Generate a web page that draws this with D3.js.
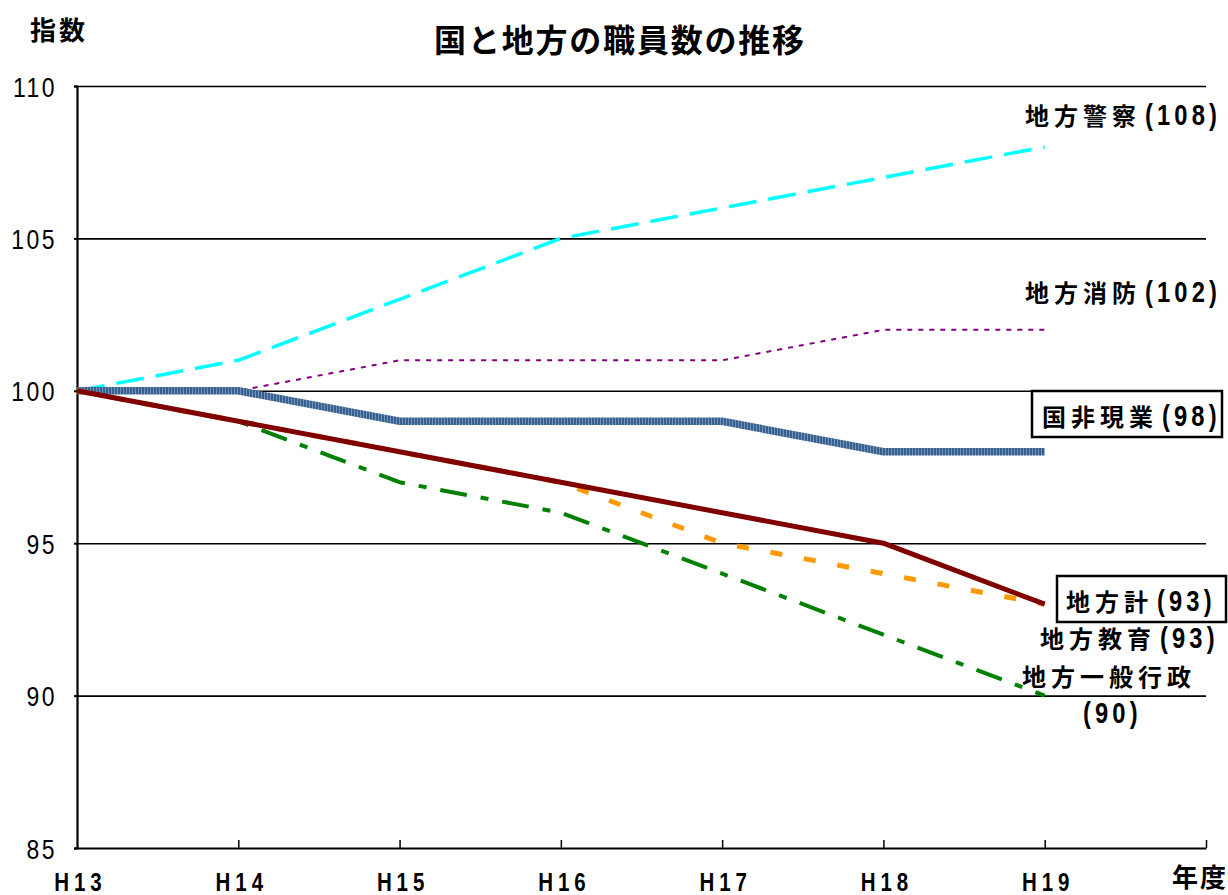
<!DOCTYPE html>
<html>
<head>
<meta charset="utf-8">
<script src="https://cdn.jsdelivr.net/npm/d3@7"></script>
<style>
  body { margin: 0; background: #fff; }
  svg { display: block; }
  text { font-family: "Liberation Sans", "Noto Sans CJK JP", sans-serif; font-weight: bold; fill: #000; }
</style>
</head>
<body>
<svg id="chart" width="1228" height="895"></svg>
<script>
// data
const years = ['H13', 'H14', 'H15', 'H16', 'H17', 'H18', 'H19'];
const yTicks = [85, 90, 95, 100, 105, 110];
const police = [100, 101, 103, 105, 106, 107, 108];
const fire = [100, 100, 101, 101, 101, 102, 102];
const national = [100, 100, 99, 99, 99, 98, 98];
const general = [100, 99, 97, 96, 94, 92, 90];
const education = [100, 99, 98, 97, 95, 94, 93];
const localTotal = [100, 99, 98, 97, 96, 95, 93];

const svg = d3.select('#chart');

const plotL = 77, plotR = 1206, plotT = 86, plotB = 848;
// latin glyphs in the original are tall and narrow
const squeeze = 0.82;

const x = d3.scaleLinear().domain([0, 7]).range([plotL, plotR]);
const y = d3.scaleLinear().domain([85, 110]).range([plotB, plotT]);

// texture for the national line
const defs = svg.append('defs');
const pat = defs.append('pattern')
  .attr('id', 'hatch')
  .attr('patternUnits', 'userSpaceOnUse')
  .attr('width', 3).attr('height', 3);
pat.append('rect').attr('width', 3).attr('height', 3).attr('fill', '#37608f');
pat.append('rect').attr('width', 1).attr('height', 3).attr('fill', '#7393ba');

// gridlines
svg.append('g')
  .attr('transform', `translate(${plotL},0)`)
  .call(d3.axisLeft(y).tickValues(yTicks.filter(d => d > 85)).tickSize(-(plotR - plotL)).tickFormat(''))
  .call(g => g.select('.domain').remove())
  .call(g => g.selectAll('line').attr('stroke', '#000').attr('stroke-width', 1.6));

// y axis
svg.append('g')
  .attr('transform', `translate(${plotL},0)`)
  .call(d3.axisLeft(y).tickValues(yTicks).tickSize(3))
  .call(g => g.select('.domain').attr('stroke', '#000').attr('stroke-width', 2.2))
  .call(g => g.selectAll('line').attr('stroke-width', 2))
  .call(g => g.selectAll('text')
    .attr('x', 0).attr('dy', '0.36em')
    .attr('transform', `translate(-20,0) scale(${squeeze},1)`)
    .style('font-size', '28px').style('font-weight', 'normal')
    .style('font-family', '"Liberation Sans", sans-serif')
    .attr('letter-spacing', 3));

// x axis ticks
svg.append('g')
  .attr('transform', `translate(0,${plotB})`)
  .call(d3.axisBottom(x).tickValues(d3.range(1, 8)).tickSizeInner(-8).tickSizeOuter(0).tickFormat(''))
  .call(g => g.select('.domain').attr('stroke', '#000').attr('stroke-width', 2.2))
  .call(g => g.selectAll('line').attr('stroke', '#000').attr('stroke-width', 1.5));

// x labels
svg.append('g')
  .attr('transform', `translate(0,${plotB})`)
  .call(d3.axisBottom(x).tickValues(d3.range(0, 7)).tickSize(0).tickFormat(i => years[i]))
  .call(g => g.select('.domain').remove())
  .call(g => g.selectAll('text')
    .attr('y', 0).attr('dy', 0)
    .attr('transform', `translate(3,43) scale(${squeeze},1)`)
    .style('font-size', '25px').attr('letter-spacing', 6)
    .style('font-family', '"Liberation Sans", sans-serif').style('font-weight', 'bold'));

const line = d3.line().x((d, i) => x(i)).y(d => y(d));

const series = [
  { values: police, color: '#00ffff', width: 3.5, dash: '28,12' },
  { values: fire, color: '#800080', width: 2, dash: '5,6' },
  { values: national, color: 'url(#hatch)', width: 7.5, dash: null },
  { values: general, color: '#008000', width: 4, dash: '27,14,8,14' },
  { values: education, color: '#ff9900', width: 5, dash: '12,22' },
  { values: localTotal, color: '#800000', width: 5, dash: null },
];

svg.append('g').selectAll('path')
  .data(series)
  .join('path')
  .attr('d', s => line(s.values))
  .attr('fill', 'none')
  .attr('stroke', s => s.color)
  .attr('stroke-width', s => s.width)
  .attr('stroke-dasharray', s => s.dash)
  .attr('stroke-linejoin', 'round');

// end labels
const labels = [
  { name: '地方警察', value: '(108)', x: 1025, y: 125, box: null },
  { name: '地方消防', value: '(102)', x: 1025, y: 302, box: null },
  { name: '国非現業', value: '(98)', x: 1042, y: 426, box: [1032, 391, 190, 46] },
  { name: '地方計', value: '(93)', x: 1066, y: 611, box: [1057, 576, 169, 46] },
  { name: '地方教育', value: '(93)', x: 1040, y: 648, box: null },
  { name: '地方一般行政', value: '', x: 1022, y: 686, box: null },
  { name: '', value: '(90)', x: 1083, y: 723, box: null },
];

const lg = svg.append('g');
labels.forEach(l => {
  if (l.box) {
    lg.append('rect')
      .attr('x', l.box[0]).attr('y', l.box[1])
      .attr('width', l.box[2]).attr('height', l.box[3])
      .attr('fill', '#fff').attr('stroke', '#000').attr('stroke-width', 2.5);
  }
  let w = 0;
  if (l.name) {
    const t = lg.append('text')
      .attr('x', l.x).attr('y', l.y)
      .attr('font-size', 24).attr('letter-spacing', 5)
      .text(l.name);
    w = t.node().getComputedTextLength() + 4;
  }
  if (l.value) {
    lg.append('text')
      .attr('transform', `translate(${l.x + w},${l.y}) scale(${squeeze},1)`)
      .attr('font-size', 29).attr('letter-spacing', 5)
      .style('font-family', '"Liberation Sans", sans-serif')
      .text(l.value);
  }
});

// titles
svg.append('text').attr('x', 620).attr('y', 52).attr('text-anchor', 'middle')
  .attr('font-size', 32).attr('letter-spacing', 1.8).text('国と地方の職員数の推移');
svg.append('text').attr('x', 30).attr('y', 40)
  .attr('font-size', 26).attr('letter-spacing', 3).text('指数');
svg.append('text').attr('x', 1172).attr('y', 887)
  .attr('font-size', 26).attr('letter-spacing', 2).text('年度');
</script>
</body>
</html>
